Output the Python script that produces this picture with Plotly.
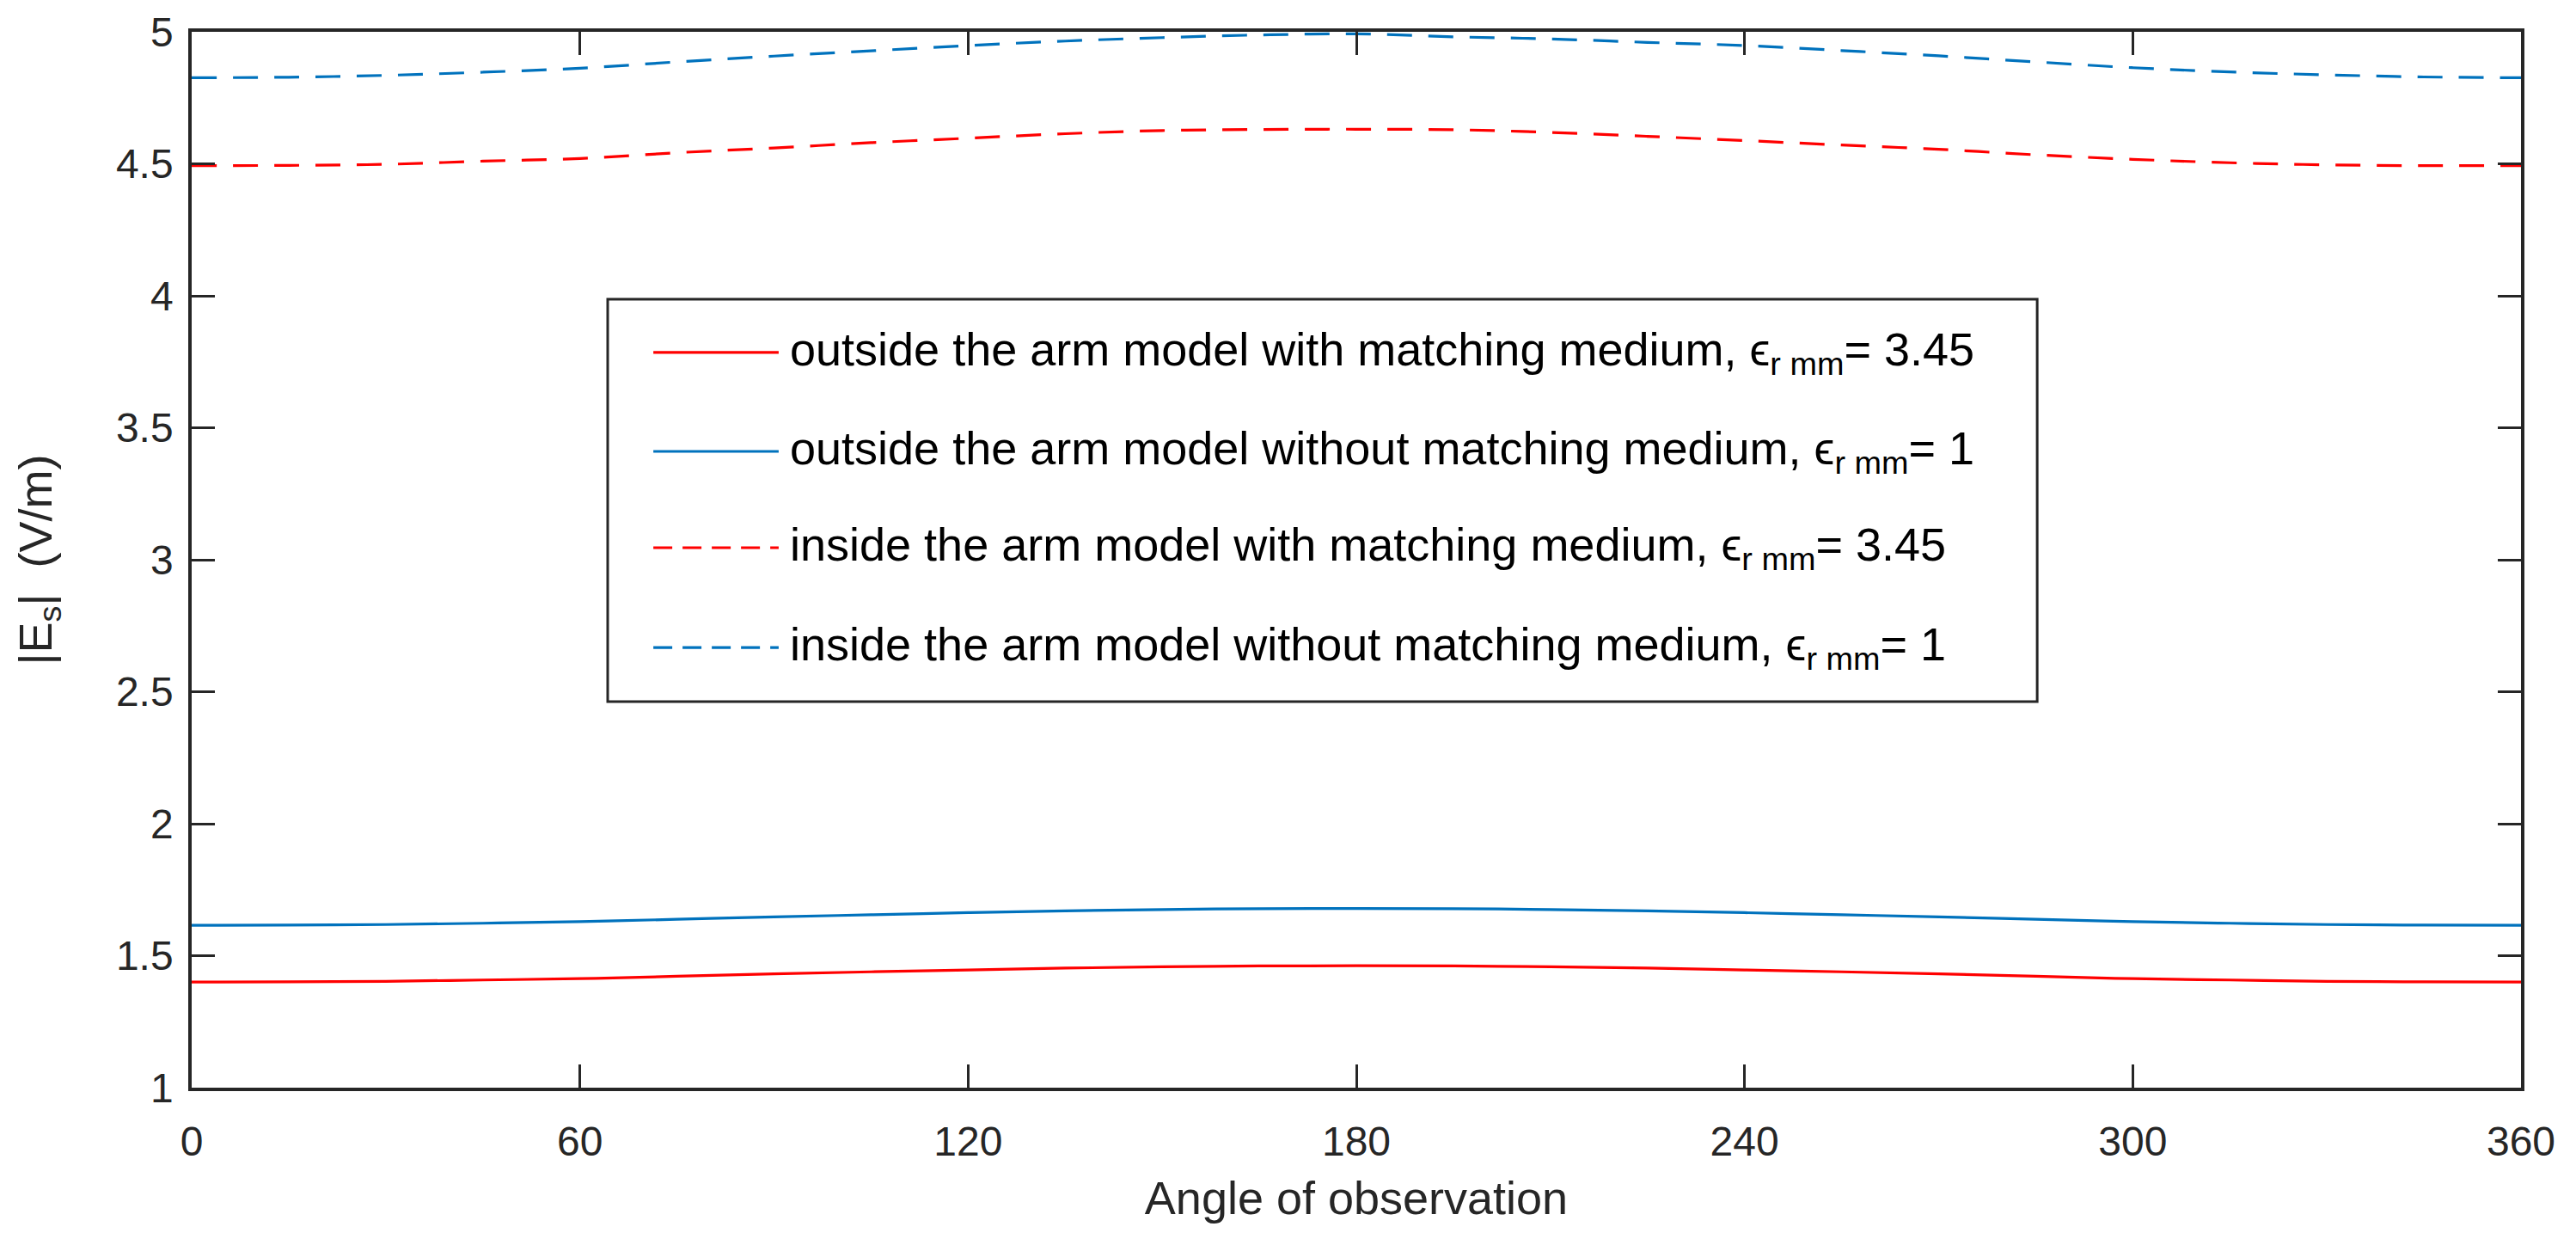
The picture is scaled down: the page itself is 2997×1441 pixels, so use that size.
import plotly.graph_objects as go

# ---------------- data ----------------
angles = [0, 15, 30, 45, 60, 75, 90, 105, 120, 135, 150, 165, 180,
          195, 210, 225, 240, 255, 270, 285, 300, 315, 330, 345, 360]

outside_with_mm = [1.400, 1.401, 1.403, 1.408, 1.413, 1.422, 1.431, 1.439, 1.446,
                   1.453, 1.458, 1.461, 1.462, 1.461, 1.458, 1.453, 1.446, 1.439,
                   1.431, 1.422, 1.413, 1.408, 1.403, 1.401, 1.400]
outside_without_mm = [1.615, 1.616, 1.618, 1.623, 1.629, 1.638, 1.647, 1.655, 1.663,
                      1.670, 1.675, 1.678, 1.679, 1.678, 1.675, 1.670, 1.663, 1.655,
                      1.647, 1.638, 1.629, 1.623, 1.618, 1.616, 1.615]
inside_with_mm = [4.493, 4.494, 4.498, 4.510, 4.520, 4.542, 4.560, 4.580, 4.597,
                  4.614, 4.626, 4.630, 4.631, 4.629, 4.619, 4.604, 4.588, 4.571,
                  4.555, 4.534, 4.517, 4.504, 4.496, 4.493, 4.493]
inside_without_mm = [4.826, 4.828, 4.835, 4.847, 4.862, 4.886, 4.908, 4.928, 4.948,
                     4.965, 4.978, 4.988, 4.992, 4.981, 4.973, 4.960, 4.948, 4.929,
                     4.909, 4.886, 4.864, 4.848, 4.837, 4.829, 4.826]

series_names = [
    "outside the arm model with matching medium, ϵ<sub>r mm</sub>= 3.45",
    "outside the arm model without matching medium, ϵ<sub>r mm</sub>= 1",
    "inside the arm model with matching medium, ϵ<sub>r mm</sub>= 3.45",
    "inside the arm model without matching medium, ϵ<sub>r mm</sub>= 1",
]
x_ticks = [0, 60, 120, 180, 240, 300, 360]
y_ticks = [1, 1.5, 2, 2.5, 3, 3.5, 4, 4.5, 5]

# ---------------- styling ----------------
RED = "#FF0000"
BLUE = "#0072BD"
AX = "#262626"
FONT = "Liberation Sans, Arial, Helvetica, sans-serif"

series = [
    (outside_with_mm, RED, "solid"),
    (outside_without_mm, BLUE, "solid"),
    (inside_with_mm, RED, "29px,19px"),
    (inside_without_mm, BLUE, "29px,19px"),
]

fig = go.Figure()
for (vals, col, dash), name in zip(series, series_names):
    fig.add_trace(go.Scatter(
        x=angles, y=vals, mode="lines", name=name, showlegend=False,
        line=dict(color=col, width=3.2, dash=dash, shape="spline", smoothing=1.0),
    ))

# ---------------- custom legend (paper coordinates) ----------------
box_x0, box_x1, box_y0, box_y1 = 0.1786, 0.7923, 0.3656, 0.7468
shapes = [dict(type="rect", xref="paper", yref="paper",
               x0=box_x0, x1=box_x1, y0=box_y0, y1=box_y1,
               line=dict(color=AX, width=3), fillcolor="white", layer="above")]
row_y = [0.6963, 0.6026, 0.5114, 0.4169]
legend_dash = ["solid", "solid", "22px,12px", "22px,12px"]
annotations = []
for (vals, col, dash), name, ry, ld in zip(series, series_names, row_y, legend_dash):
    shapes.append(dict(type="line", xref="paper", yref="paper",
                       x0=0.1982, x1=0.2520, y0=ry, y1=ry,
                       line=dict(color=col, width=3.2, dash=ld), layer="above"))
    annotations.append(dict(xref="paper", yref="paper", x=0.2561, y=ry,
                            xanchor="left", yanchor="middle", showarrow=False,
                            text=name, font=dict(family=FONT, size=54, color="black")))

fig.update_layout(
    width=2997, height=1441,
    margin=dict(l=223, r=64, t=37, b=176),
    paper_bgcolor="white", plot_bgcolor="white",
    font=dict(family=FONT, size=48, color=AX),
    shapes=shapes, annotations=annotations,
)
fig.update_xaxes(
    range=[0, 360], tickvals=x_ticks, ticktext=[str(v) for v in x_ticks],
    showgrid=False, zeroline=False,
    showline=True, linecolor=AX, linewidth=3.5, mirror="ticks",
    ticks="inside", ticklen=27, tickwidth=3, tickcolor=AX,
    tickfont=dict(family=FONT, size=48, color=AX), ticklabelstandoff=18,
    title=dict(text="Angle of observation", font=dict(family=FONT, size=54, color=AX), standoff=22),
)
fig.update_yaxes(
    range=[1, 5], tickvals=y_ticks, ticktext=[f"{v:g}" for v in y_ticks],
    showgrid=False, zeroline=False,
    showline=True, linecolor=AX, linewidth=3.5, mirror="ticks",
    ticks="inside", ticklen=27, tickwidth=3, tickcolor=AX,
    tickfont=dict(family=FONT, size=48, color=AX), ticklabelstandoff=8,
    title=dict(text="|E<sub>s</sub>|  (V/m)", font=dict(family=FONT, size=54, color=AX), standoff=58),
)

fig.write_html("out.html", config={"displayModeBar": False},
               post_script="document.body.style.margin='0px';")
